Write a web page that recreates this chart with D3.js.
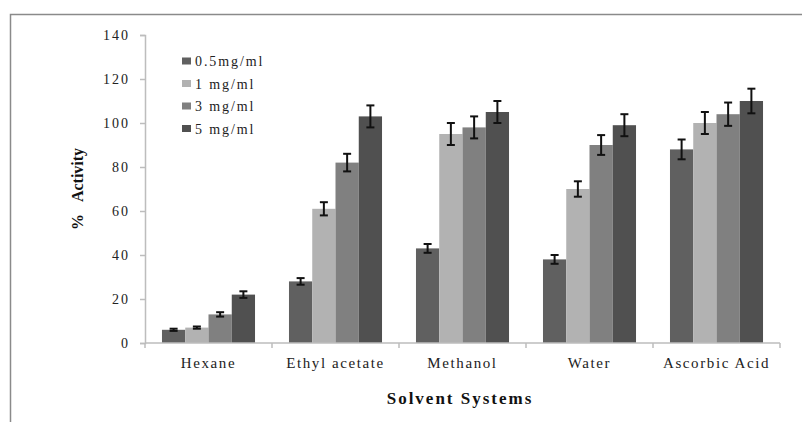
<!DOCTYPE html>
<html>
<head>
<meta charset="utf-8">
<script src="https://cdn.jsdelivr.net/npm/d3@7"></script>
<style>
  html, body { margin: 0; padding: 0; background: #fff; }
  svg { display: block; }
</style>
</head>
<body>
<svg id="chart" width="802" height="422"></svg>
<script>
const categories = ["Hexane", "Ethyl acetate", "Methanol", "Water", "Ascorbic Acid"];
const seriesNames = ["0.5mg/ml", "1 mg/ml", "3 mg/ml", "5 mg/ml"];
const s05 = [6, 28, 43, 38, 88];
const s1  = [7, 61, 95, 70, 100];
const s3  = [13, 82, 98, 90, 104];
const s5  = [22, 103, 105, 99, 110];
const e05 = [0.5, 1.5, 2, 2, 4.5];
const e1  = [0.5, 3, 5, 3.5, 5];
const e3  = [1, 4, 5, 4.5, 5.3];
const e5  = [1.5, 5, 5, 5, 5.6];
const yTicks = [0, 20, 40, 60, 80, 100, 120, 140];
const colors = ["#606060", "#b2b2b2", "#808080", "#505050"];

const values = [s05, s1, s3, s5];
const errors = [e05, e1, e3, e5];
const FONT = "'Liberation Serif', 'Times New Roman', Tinos, serif";

const svg = d3.select("#chart");

svg.append("rect")
  .attr("x", 10.5).attr("y", 14.5)
  .attr("width", 900).attr("height", 600)
  .attr("fill", "none").attr("stroke", "#8a8a8a").attr("stroke-width", 1.5);

const x0 = d3.scaleBand().domain(categories).range([145, 780]).paddingInner(0).paddingOuter(0);
const x1 = d3.scaleBand().domain(seriesNames).range([0, x0.bandwidth()]).paddingInner(0).paddingOuter(0.73);
const y = d3.scaleLinear().domain([0, 140]).range([343, 35]);

categories.forEach((c, ci) => {
  const g = svg.append("g").attr("transform", `translate(${x0(c)},0)`);
  seriesNames.forEach((s, si) => {
    const v = values[si][ci];
    g.append("rect")
      .attr("x", x1(s)).attr("y", y(v))
      .attr("width", x1.bandwidth()).attr("height", y(0) - y(v))
      .attr("fill", colors[si]);
  });
  seriesNames.forEach((s, si) => {
    const v = values[si][ci], e = errors[si][ci];
    const cx = x1(s) + x1.bandwidth() / 2;
    g.append("line").attr("x1", cx).attr("x2", cx)
      .attr("y1", y(v + e)).attr("y2", y(v - e))
      .attr("stroke", "#111").attr("stroke-width", 2);
    [v + e, v - e].forEach(t => {
      g.append("line").attr("x1", cx - 4).attr("x2", cx + 4)
        .attr("y1", y(t)).attr("y2", y(t))
        .attr("stroke", "#111").attr("stroke-width", 2);
    });
  });
});

const yAxis = d3.axisLeft(y).tickValues(yTicks).tickSize(5).tickPadding(12);
const yg = svg.append("g").attr("transform", "translate(145,0)").call(yAxis);
yg.attr("font-family", null);
yg.select(".domain").attr("stroke", "#bdbdbd").attr("stroke-width", 1.5);
yg.selectAll(".tick line").attr("stroke", "#bdbdbd").attr("stroke-width", 1.5);
yg.selectAll(".tick text")
  .style("font-family", FONT).style("font-size", "14px")
  .attr("fill", "#222").style("letter-spacing", "2px").attr("dx", 2);

const xg = svg.append("g").attr("transform", "translate(0,343)");
xg.append("line").attr("x1", 145).attr("x2", 780).attr("y1", 0).attr("y2", 0)
  .attr("stroke", "#bdbdbd").attr("stroke-width", 1.5);
const bounds = categories.map(c => x0(c)).concat([x0(categories[categories.length - 1]) + x0.bandwidth()]);
xg.selectAll("line.tk").data(bounds).enter().append("line").attr("class", "tk")
  .attr("x1", d => d).attr("x2", d => d).attr("y1", 0).attr("y2", 5)
  .attr("stroke", "#bdbdbd").attr("stroke-width", 1.5);
xg.selectAll("text.cat").data(categories).enter().append("text").attr("class", "cat")
  .attr("x", d => x0(d) + x0.bandwidth() / 2).attr("y", 25)
  .attr("text-anchor", "middle")
  .style("font-family", FONT).style("font-size", "15px")
  .style("letter-spacing", "1.6px").attr("fill", "#222")
  .text(d => d);

const lg = svg.append("g");
seriesNames.forEach((s, i) => {
  const ly = 61 + i * 22.5;
  lg.append("rect").attr("x", 182).attr("y", ly - 3.5).attr("width", 9).attr("height", 7).attr("fill", colors[i]);
  lg.append("text").attr("x", 195).attr("y", ly + 5)
    .style("font-family", FONT).style("font-size", "14px")
    .style("letter-spacing", "1.9px").attr("fill", "#222").text(s);
});

svg.append("text")
  .attr("transform", "translate(83,189) rotate(-90)")
  .attr("text-anchor", "middle")
  .style("font-family", FONT).style("font-size", "16px").style("font-weight", "bold")
  .attr("fill", "#111")
  .text("%\u00A0\u00A0\u00A0Activity");

svg.append("text")
  .attr("x", 460).attr("y", 404)
  .attr("text-anchor", "middle")
  .style("font-family", FONT).style("font-size", "17px").style("font-weight", "bold")
  .style("letter-spacing", "2px").attr("fill", "#111")
  .text("Solvent Systems");
</script>
</body>
</html>
